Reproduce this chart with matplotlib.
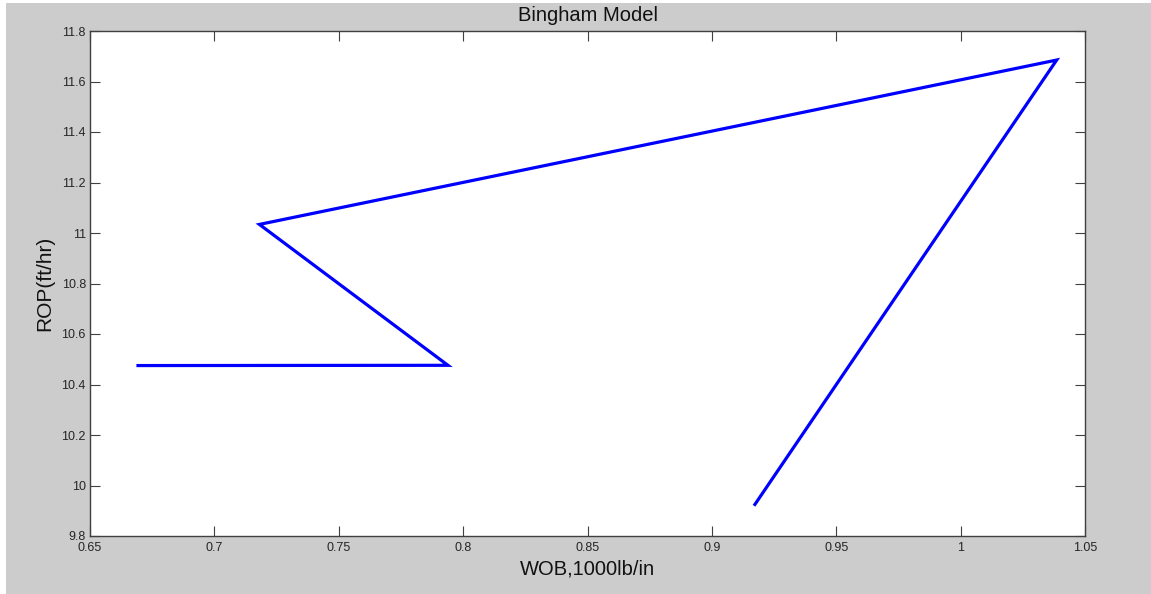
import matplotlib
matplotlib.use("Agg")
import matplotlib.pyplot as plt
from matplotlib.patches import Rectangle

# WOB vs ROP points, in plotting order
wob = [0.6693, 0.7939, 0.7181, 1.0386, 0.9173]
rop = [10.475, 10.476, 11.034, 11.685, 9.925]

xticks = [0.65, 0.7, 0.75, 0.8, 0.85, 0.9, 0.95, 1, 1.05]
xticklabels = ["0.65", "0.7", "0.75", "0.8", "0.85", "0.9", "0.95", "1", "1.05"]
yticks = [9.8, 10, 10.2, 10.4, 10.6, 10.8, 11, 11.2, 11.4, 11.6, 11.8]
yticklabels = ["9.8", "10", "10.2", "10.4", "10.6", "10.8", "11", "11.2", "11.4", "11.6", "11.8"]

plt.rcParams['font.family'] = ['Liberation Sans', 'DejaVu Sans']

W, H = 1151, 594
fig = plt.figure(figsize=(W / 100, H / 100), dpi=100, facecolor='white')
# grey MATLAB-style figure background, with a thin white strip left and top
fig.patches.append(Rectangle((6 / W, 0), 1 - 6 / W, 1 - 3 / H, transform=fig.transFigure,
                             facecolor='#cccccc', edgecolor='none', zorder=-10))

ax = fig.add_axes([90 / W, 1 - 536 / H, (1085 - 90) / W, (536 - 31) / H])
ax.set_facecolor('white')
ax.plot(wob, rop, color='#0000ff', linewidth=2.3, solid_joinstyle='miter')

ax.set_xlim(0.65, 1.05)
ax.set_ylim(9.8, 11.8)
ax.set_xticks(xticks)
ax.set_xticklabels(xticklabels)
ax.set_yticks(yticks)
ax.set_yticklabels(yticklabels)
ax.tick_params(direction='in', length=7.5, width=0.8, color='#404040',
               top=True, right=True, labelsize=9, labelcolor='#262626')
ax.tick_params(axis='x', pad=4)
ax.tick_params(axis='y', pad=3)
for sp in ax.spines.values():
    sp.set_color('#404040')
    sp.set_linewidth(1.0)

ax.set_title("Bingham Model", fontsize=14.5, color='#111111', pad=7)
ax.set_xlabel("WOB,1000lb/in", fontsize=14.5, color='#111111', labelpad=4)
ax.set_ylabel("ROP(ft/hr)", fontsize=15, color='#111111', labelpad=5)

fig.savefig("out.png", dpi=100)
